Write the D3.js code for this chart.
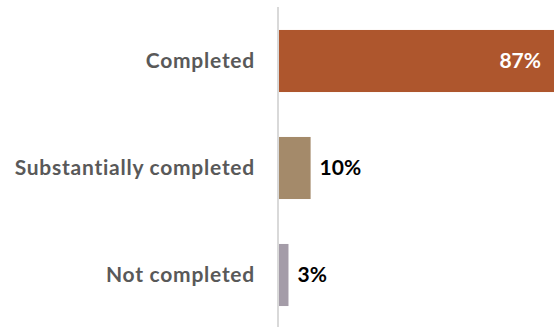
<!DOCTYPE html>
<html><head><meta charset="utf-8">
<script src="https://cdn.jsdelivr.net/npm/d3@7"></script>
<style>body{margin:0;background:#fff}svg{display:block}</style>
</head><body><svg id="c" width="554" height="327"></svg>
<script>
const categories = ["Completed", "Substantially completed", "Not completed"];
const values = [87, 10, 3];
const colors = ["#ae562d", "#a48a6a", "#a49ca8"];
const labels = ["87%", "10%", "3%"];

const svg = d3.select("#c");
const x = d3.scaleLinear().domain([0, 87]).range([279, 554]);
const y = d3.scaleBand().domain(categories).range([7.5, 328.5]).paddingInner(0.42).paddingOuter(0.21);
const font = "Lato, 'Open Sans', sans-serif";

svg.append("line").attr("x1", 278).attr("x2", 278).attr("y1", 7).attr("y2", 327)
  .attr("stroke", "#d9d9d9").attr("stroke-width", 2);

svg.selectAll("rect.bar").data(categories).join("rect").attr("class","bar")
  .attr("x", x(0)).attr("y", d => y(d)).attr("height", y.bandwidth())
  .attr("width", (d,i) => x(values[i]) - x(0)).attr("fill", (d,i) => colors[i]);

svg.selectAll("text.cat").data(categories).join("text").attr("class","cat")
  .attr("x", 255).attr("y", d => y(d) + y.bandwidth()/2).attr("dy", "0.35em")
  .attr("text-anchor", "end").attr("font-family", font).attr("font-weight", "bold")
  .attr("font-size", 21).attr("letter-spacing", 0.75).attr("fill", "#595959").text(d => d);

svg.selectAll("text.val").data(categories).join("text").attr("class","val")
  .attr("x", (d,i) => i === 0 ? x(values[i]) - 13 : x(values[i]) + 9)
  .attr("y", d => y(d) + y.bandwidth()/2).attr("dy", "0.35em")
  .attr("text-anchor", (d,i) => i === 0 ? "end" : "start")
  .attr("font-family", font).attr("font-weight", "bold").attr("font-size", 21)
  .attr("fill", (d,i) => i === 0 ? "#ffffff" : "#000000").text((d,i) => labels[i]);
</script></body></html>
